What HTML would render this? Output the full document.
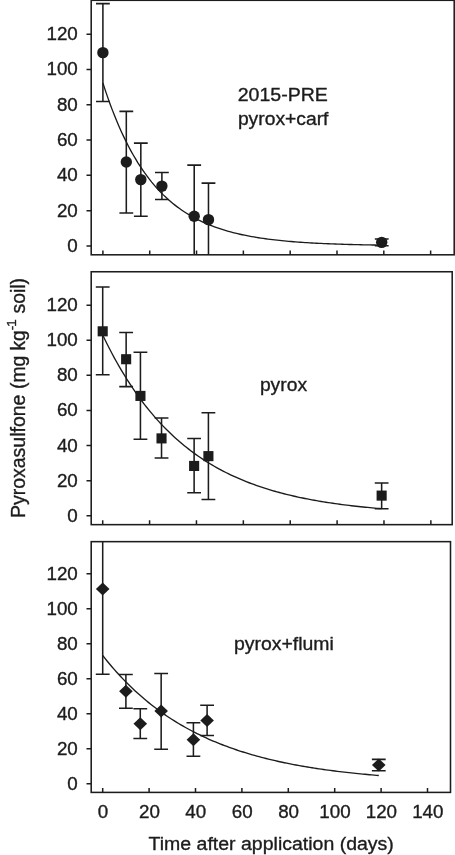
<!DOCTYPE html>
<html lang="en"><head><meta charset="utf-8"><title>Pyroxasulfone dissipation</title>
<style>
html,body{margin:0;padding:0;background:#fff;}
body{width:455px;height:855px;overflow:hidden;}
svg{display:block;}
text{font-family:"Liberation Sans", Arial, Helvetica, sans-serif;font-size:19.3px;fill:#1c1c1c;stroke:#1c1c1c;stroke-width:0.35;}
.tl{font-size:18.8px;}
.lb{font-size:18.5px;}
.fr{fill:none;stroke:#1c1c1c;stroke-width:1.55;}
.tk{stroke:#1c1c1c;stroke-width:1.5;fill:none;}
.eb{stroke:#1c1c1c;stroke-width:1.55;fill:none;}
.cv{stroke:#1c1c1c;stroke-width:1.35;fill:none;}
.mk{fill:#1c1c1c;stroke:none;}
</style></head><body>
<svg width="455" height="855" viewBox="0 0 455 855">
<rect width="455" height="855" fill="#fff"/>
<clipPath id="cp0"><rect x="91.2" y="0.3" width="363.00" height="254.50"/></clipPath>
<g clip-path="url(#cp0)">
<path class="cv" d="M102.90 82.97 L105.22 90.09 L107.55 96.89 L109.87 103.40 L112.19 109.63 L114.52 115.58 L116.84 121.27 L119.16 126.72 L121.49 131.92 L123.81 136.90 L126.13 141.66 L128.46 146.21 L130.78 150.57 L133.10 154.73 L135.43 158.71 L137.75 162.52 L140.08 166.16 L142.40 169.65 L144.72 172.98 L147.05 176.16 L149.37 179.21 L151.69 182.12 L154.02 184.91 L156.34 187.57 L158.66 190.12 L160.99 192.56 L163.31 194.89 L165.63 197.11 L167.96 199.25 L170.28 201.28 L172.60 203.23 L174.93 205.10 L177.25 206.88 L179.57 208.58 L181.90 210.21 L184.22 211.77 L186.54 213.26 L188.87 214.69 L191.19 216.05 L193.51 217.36 L195.84 218.60 L198.16 219.79 L200.48 220.93 L202.81 222.03 L205.13 223.07 L207.45 224.07 L209.78 225.02 L212.10 225.93 L214.43 226.80 L216.75 227.64 L219.07 228.44 L221.40 229.20 L223.72 229.93 L226.04 230.63 L228.37 231.29 L230.69 231.93 L233.01 232.54 L235.34 233.12 L237.66 233.68 L239.98 234.22 L242.31 234.73 L244.63 235.21 L246.95 235.68 L249.28 236.13 L251.60 236.55 L253.92 236.96 L256.25 237.35 L258.57 237.73 L260.89 238.08 L263.22 238.42 L265.54 238.75 L267.86 239.06 L270.19 239.36 L272.51 239.65 L274.83 239.92 L277.16 240.18 L279.48 240.43 L281.81 240.67 L284.13 240.90 L286.45 241.12 L288.78 241.33 L291.10 241.53 L293.42 241.72 L295.75 241.90 L298.07 242.07 L300.39 242.24 L302.72 242.40 L305.04 242.55 L307.36 242.70 L309.69 242.84 L312.01 242.97 L314.33 243.10 L316.66 243.22 L318.98 243.34 L321.30 243.45 L323.63 243.56 L325.95 243.66 L328.27 243.76 L330.60 243.85 L332.92 243.94 L335.24 244.03 L337.57 244.11 L339.89 244.19 L342.21 244.26 L344.54 244.33 L346.86 244.40 L349.18 244.47 L351.51 244.53 L353.83 244.59 L356.16 244.65 L358.48 244.70 L360.80 244.75 L363.13 244.80 L365.45 244.85 L367.77 244.90 L370.10 244.94 L372.42 244.98 L374.74 245.02 L377.07 245.06 L379.39 245.10 L381.71 245.13"/>
<path class="eb" d="M102.90 101.49V3.62M96.00 3.62H109.80M96.00 101.49H109.80"/>
<path class="eb" d="M126.31 212.93V111.36M119.41 111.36H133.21M119.41 212.93H133.21"/>
<path class="eb" d="M140.82 216.28V143.10M133.92 143.10H147.72M133.92 216.28H147.72"/>
<path class="eb" d="M161.89 199.53V172.55M154.99 172.55H168.79M154.99 199.53H168.79"/>
<path class="eb" d="M194.20 281.17V165.14M187.30 165.14H201.10M187.30 281.17H201.10"/>
<path class="eb" d="M208.48 281.17V183.13M201.58 183.13H215.38M201.58 281.17H215.38"/>
<path class="eb" d="M381.71 245.81V238.93M374.81 238.93H388.61M374.81 245.81H388.61"/>
<circle class="mk" cx="102.90" cy="52.64" r="5.7"/>
<circle class="mk" cx="126.31" cy="161.97" r="5.7"/>
<circle class="mk" cx="140.82" cy="179.60" r="5.7"/>
<circle class="mk" cx="161.89" cy="186.12" r="5.7"/>
<circle class="mk" cx="194.20" cy="216.28" r="5.7"/>
<circle class="mk" cx="208.48" cy="219.63" r="5.7"/>
<circle class="mk" cx="381.71" cy="242.37" r="5.7"/>
</g>
<rect class="fr" x="91.2" y="0.3" width="363.00" height="254.50"/>
<path class="tk" d="M86.50 245.90H91.2M86.50 210.63H91.2M86.50 175.37H91.2M86.50 140.10H91.2M86.50 104.84H91.2M86.50 69.57H91.2M86.50 34.30H91.2M102.90 254.8V250.50M149.72 254.8V250.50M196.54 254.8V250.50M243.36 254.8V250.50M290.18 254.8V250.50M337.00 254.8V250.50M383.82 254.8V250.50M430.64 254.8V250.50"/>
<text class="tl" x="77.8" y="252.00" text-anchor="end">0</text>
<text class="tl" x="77.8" y="216.67" text-anchor="end">20</text>
<text class="tl" x="77.8" y="181.35" text-anchor="end">40</text>
<text class="tl" x="77.8" y="146.02" text-anchor="end">60</text>
<text class="tl" x="77.8" y="110.70" text-anchor="end">80</text>
<text class="tl" x="77.8" y="75.37" text-anchor="end">100</text>
<text class="tl" x="77.8" y="40.04" text-anchor="end">120</text>
<text class="lb" transform="translate(237.7 101.3) scale(1.057 1)">2015-PRE</text>
<text class="lb" transform="translate(237.9 124.6) scale(1.043 1)">pyrox+carf</text>
<clipPath id="cp1"><rect x="91.2" y="271.75" width="361.00" height="252.90"/></clipPath>
<g clip-path="url(#cp1)">
<path class="cv" d="M102.70 334.99 L105.02 339.81 L107.35 344.49 L109.67 349.05 L112.00 353.49 L114.32 357.81 L116.65 362.01 L118.97 366.10 L121.30 370.09 L123.62 373.96 L125.94 377.74 L128.27 381.41 L130.59 384.99 L132.92 388.47 L135.24 391.86 L137.57 395.16 L139.89 398.37 L142.22 401.49 L144.54 404.54 L146.86 407.50 L149.19 410.38 L151.51 413.18 L153.84 415.92 L156.16 418.57 L158.49 421.16 L160.81 423.68 L163.14 426.13 L165.46 428.52 L167.79 430.84 L170.11 433.10 L172.43 435.30 L174.76 437.44 L177.08 439.53 L179.41 441.56 L181.73 443.54 L184.06 445.46 L186.38 447.33 L188.71 449.15 L191.03 450.93 L193.35 452.65 L195.68 454.33 L198.00 455.97 L200.33 457.56 L202.65 459.11 L204.98 460.62 L207.30 462.09 L209.63 463.52 L211.95 464.91 L214.27 466.26 L216.60 467.58 L218.92 468.87 L221.25 470.11 L223.57 471.33 L225.90 472.51 L228.22 473.67 L230.55 474.79 L232.87 475.88 L235.19 476.94 L237.52 477.97 L239.84 478.98 L242.17 479.96 L244.49 480.92 L246.82 481.84 L249.14 482.75 L251.47 483.63 L253.79 484.48 L256.11 485.32 L258.44 486.13 L260.76 486.92 L263.09 487.69 L265.41 488.43 L267.74 489.16 L270.06 489.87 L272.39 490.56 L274.71 491.23 L277.03 491.89 L279.36 492.52 L281.68 493.14 L284.01 493.75 L286.33 494.33 L288.66 494.90 L290.98 495.46 L293.31 496.00 L295.63 496.53 L297.96 497.04 L300.28 497.54 L302.60 498.03 L304.93 498.50 L307.25 498.96 L309.58 499.41 L311.90 499.84 L314.23 500.27 L316.55 500.68 L318.88 501.08 L321.20 501.48 L323.52 501.86 L325.85 502.23 L328.17 502.59 L330.50 502.94 L332.82 503.28 L335.15 503.62 L337.47 503.94 L339.80 504.26 L342.12 504.56 L344.44 504.86 L346.77 505.15 L349.09 505.44 L351.42 505.71 L353.74 505.98 L356.07 506.24 L358.39 506.50 L360.72 506.74 L363.04 506.99 L365.36 507.22 L367.69 507.45 L370.01 507.67 L372.34 507.89 L374.66 508.10 L376.99 508.30 L379.31 508.50 L381.64 508.70"/>
<path class="eb" d="M102.70 374.67V286.90M95.80 286.90H109.60M95.80 374.67H109.60"/>
<path class="eb" d="M126.14 386.60V332.54M119.24 332.54H133.04M119.24 386.60H133.04"/>
<path class="eb" d="M140.44 439.26V352.20M133.54 352.20H147.34M133.54 439.26H147.34"/>
<path class="eb" d="M161.53 458.05V418.02M154.63 418.02H168.43M154.63 458.05H168.43"/>
<path class="eb" d="M194.12 492.80V438.56M187.22 438.56H201.02M187.22 492.80H201.02"/>
<path class="eb" d="M208.41 499.47V412.76M201.51 412.76H215.31M201.51 499.47H215.31"/>
<path class="eb" d="M381.64 508.78V482.97M374.74 482.97H388.54M374.74 508.78H388.54"/>
<rect class="mk" x="97.65" y="326.26" width="10.1" height="10.1"/>
<rect class="mk" x="121.09" y="354.17" width="10.1" height="10.1"/>
<rect class="mk" x="135.39" y="390.86" width="10.1" height="10.1"/>
<rect class="mk" x="156.48" y="433.34" width="10.1" height="10.1"/>
<rect class="mk" x="189.07" y="460.90" width="10.1" height="10.1"/>
<rect class="mk" x="203.36" y="451.07" width="10.1" height="10.1"/>
<rect class="mk" x="376.59" y="490.56" width="10.1" height="10.1"/>
</g>
<rect class="fr" x="91.2" y="271.75" width="361.00" height="252.90"/>
<path class="tk" d="M86.50 515.80H91.2M86.50 480.69H91.2M86.50 445.58H91.2M86.50 410.48H91.2M86.50 375.37H91.2M86.50 340.26H91.2M86.50 305.15H91.2M102.70 524.65V520.35M149.58 524.65V520.35M196.46 524.65V520.35M243.34 524.65V520.35M290.22 524.65V520.35M337.10 524.65V520.35M383.98 524.65V520.35M430.86 524.65V520.35"/>
<text class="tl" x="77.8" y="521.90" text-anchor="end">0</text>
<text class="tl" x="77.8" y="486.73" text-anchor="end">20</text>
<text class="tl" x="77.8" y="451.56" text-anchor="end">40</text>
<text class="tl" x="77.8" y="416.40" text-anchor="end">60</text>
<text class="tl" x="77.8" y="381.23" text-anchor="end">80</text>
<text class="tl" x="77.8" y="346.06" text-anchor="end">100</text>
<text class="tl" x="77.8" y="310.89" text-anchor="end">120</text>
<text class="lb" transform="translate(259.9 390.7) scale(1.043 1)">pyrox</text>
<clipPath id="cp2"><rect x="91.2" y="541.65" width="359.30" height="250.75"/></clipPath>
<g clip-path="url(#cp2)">
<path class="cv" d="M102.70 655.51 L105.00 658.42 L107.30 661.25 L109.60 664.03 L111.90 666.74 L114.20 669.39 L116.50 671.97 L118.80 674.50 L121.11 676.98 L123.41 679.39 L125.71 681.76 L128.01 684.07 L130.31 686.32 L132.61 688.53 L134.91 690.68 L137.21 692.79 L139.51 694.85 L141.81 696.86 L144.11 698.83 L146.41 700.75 L148.71 702.63 L151.01 704.46 L153.31 706.26 L155.62 708.01 L157.92 709.73 L160.22 711.40 L162.52 713.04 L164.82 714.64 L167.12 716.20 L169.42 717.73 L171.72 719.23 L174.02 720.69 L176.32 722.11 L178.62 723.51 L180.92 724.87 L183.22 726.20 L185.52 727.51 L187.82 728.78 L190.13 730.02 L192.43 731.24 L194.73 732.43 L197.03 733.59 L199.33 734.72 L201.63 735.83 L203.93 736.92 L206.23 737.97 L208.53 739.01 L210.83 740.02 L213.13 741.01 L215.43 741.98 L217.73 742.92 L220.03 743.85 L222.33 744.75 L224.64 745.63 L226.94 746.49 L229.24 747.34 L231.54 748.16 L233.84 748.96 L236.14 749.75 L238.44 750.52 L240.74 751.27 L243.04 752.01 L245.34 752.72 L247.64 753.43 L249.94 754.11 L252.24 754.78 L254.54 755.44 L256.84 756.08 L259.15 756.70 L261.45 757.31 L263.75 757.91 L266.05 758.49 L268.35 759.07 L270.65 759.62 L272.95 760.17 L275.25 760.70 L277.55 761.22 L279.85 761.73 L282.15 762.23 L284.45 762.72 L286.75 763.19 L289.05 763.65 L291.35 764.11 L293.66 764.55 L295.96 764.99 L298.26 765.41 L300.56 765.82 L302.86 766.23 L305.16 766.62 L307.46 767.01 L309.76 767.39 L312.06 767.76 L314.36 768.12 L316.66 768.47 L318.96 768.82 L321.26 769.15 L323.56 769.48 L325.86 769.81 L328.17 770.12 L330.47 770.43 L332.77 770.73 L335.07 771.02 L337.37 771.31 L339.67 771.59 L341.97 771.86 L344.27 772.13 L346.57 772.39 L348.87 772.65 L351.17 772.90 L353.47 773.15 L355.77 773.38 L358.07 773.62 L360.37 773.85 L362.68 774.07 L364.98 774.29 L367.28 774.50 L369.58 774.71 L371.88 774.91 L374.18 775.11 L376.48 775.31 L378.78 775.50"/>
<path class="eb" d="M102.70 674.23V503.89M95.80 503.89H109.60M95.80 674.23H109.60"/>
<path class="eb" d="M125.90 708.33V674.57M119.00 674.57H132.80M119.00 708.33H132.80"/>
<path class="eb" d="M140.28 738.58V708.68M133.38 708.68H147.18M133.38 738.58H147.18"/>
<path class="eb" d="M161.16 749.25V673.53M154.26 673.53H168.06M154.26 749.25H168.06"/>
<path class="eb" d="M193.41 756.24V722.84M186.51 722.84H200.31M186.51 756.24H200.31"/>
<path class="eb" d="M207.10 735.43V705.18M200.20 705.18H214.00M200.20 735.43H214.00"/>
<path class="eb" d="M378.78 770.76V759.39M371.88 759.39H385.68M371.88 770.76H385.68"/>
<path class="mk" d="M102.70 582.56L109.50 589.06L102.70 595.56L95.90 589.06Z"/>
<path class="mk" d="M125.90 684.69L132.70 691.19L125.90 697.69L119.10 691.19Z"/>
<path class="mk" d="M140.28 717.22L147.08 723.72L140.28 730.22L133.48 723.72Z"/>
<path class="mk" d="M161.16 704.62L167.96 711.12L161.16 717.62L154.36 711.12Z"/>
<path class="mk" d="M193.41 733.31L200.21 739.81L193.41 746.31L186.61 739.81Z"/>
<path class="mk" d="M207.10 713.89L213.90 720.39L207.10 726.89L200.30 720.39Z"/>
<path class="mk" d="M378.78 758.49L385.58 764.99L378.78 771.49L371.98 764.99Z"/>
</g>
<rect class="fr" x="91.2" y="541.65" width="359.30" height="250.75"/>
<path class="tk" d="M86.50 783.70H91.2M86.50 748.72H91.2M86.50 713.75H91.2M86.50 678.77H91.2M86.50 643.80H91.2M86.50 608.82H91.2M86.50 573.84H91.2M102.70 792.4V788.10M149.10 792.4V788.10M195.50 792.4V788.10M241.90 792.4V788.10M288.30 792.4V788.10M334.70 792.4V788.10M381.10 792.4V788.10M427.50 792.4V788.10"/>
<text class="tl" x="77.8" y="789.80" text-anchor="end">0</text>
<text class="tl" x="77.8" y="754.76" text-anchor="end">20</text>
<text class="tl" x="77.8" y="719.73" text-anchor="end">40</text>
<text class="tl" x="77.8" y="684.69" text-anchor="end">60</text>
<text class="tl" x="77.8" y="649.66" text-anchor="end">80</text>
<text class="tl" x="77.8" y="614.62" text-anchor="end">100</text>
<text class="tl" x="77.8" y="579.58" text-anchor="end">120</text>
<text class="lb" transform="translate(233.9 650.1) scale(1.051 1)">pyrox+flumi</text>
<text class="tl" x="103.00" y="818.2" text-anchor="middle">0</text>
<text class="tl" x="149.40" y="818.2" text-anchor="middle">20</text>
<text class="tl" x="195.80" y="818.2" text-anchor="middle">40</text>
<text class="tl" x="242.20" y="818.2" text-anchor="middle">60</text>
<text class="tl" x="288.60" y="818.2" text-anchor="middle">80</text>
<text class="tl" x="335.00" y="818.2" text-anchor="middle">100</text>
<text class="tl" x="381.40" y="818.2" text-anchor="middle">120</text>
<text class="tl" x="427.80" y="818.2" text-anchor="middle">140</text>
<text class="lb" transform="translate(148.6 850.4) scale(1.054 1)">Time after application (days)</text>
<text transform="translate(24.9 518.1) rotate(-90) scale(1.011 1)">Pyroxasulfone</text>
<text transform="translate(24.9 389.0) rotate(-90) scale(1.004 1)">(mg</text>
<text transform="translate(24.9 350.6) rotate(-90) scale(0.995 1)">kg</text>
<text transform="translate(24.9 313.5) rotate(-90) scale(1.003 1)">soil)</text>
<text transform="translate(16.1 330.3) rotate(-90)" style="font-size:13.5px;letter-spacing:-0.9px">-1</text>
</svg></body></html>
